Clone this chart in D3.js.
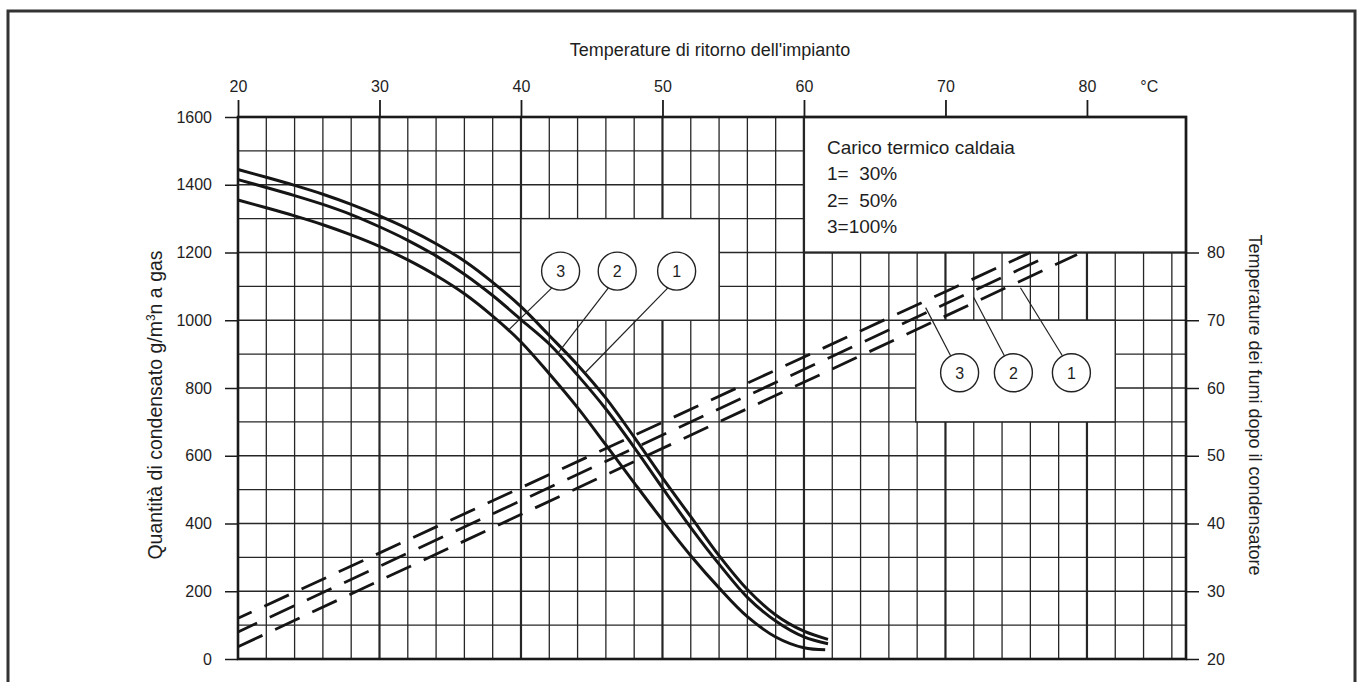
<!DOCTYPE html>
<html>
<head>
<meta charset="utf-8">
<script src="https://cdn.jsdelivr.net/npm/d3@7"></script>
<style>
  body { margin: 0; background: #fff; }
  svg { display: block; }
  text { font-family: "Liberation Sans", Arial, sans-serif; fill: #1e1e1e; }
</style>
</head>
<body>
<div id="chart"></div>
<script>
// return temperature (top axis, °C)
var retTemp = [20, 22, 24, 26, 28, 30, 32, 34, 36, 38, 40, 42, 44, 46, 48, 50, 52, 54, 56, 58, 60];

// condensate quantity g/m3n gas, one curve per boiler load (left axis)
var cond1 = [1445, 1422, 1398, 1372, 1342, 1308, 1270, 1226, 1175, 1112, 1040, 955, 868, 770, 655, 535, 420, 305, 205, 130, 82];
var cond2 = [1415, 1392, 1368, 1342, 1312, 1276, 1236, 1190, 1136, 1073, 1002, 930, 838, 738, 625, 505, 388, 280, 182, 112, 65];
var cond3 = [1355, 1332, 1308, 1282, 1252, 1218, 1178, 1132, 1078, 1012, 936, 842, 742, 632, 520, 410, 305, 210, 125, 65, 33];
var condEndT = [61.7, 61.7, 61.5];
var condEndV = [58, 45, 27];

// flue gas temperature after condenser (right axis), straight dashed lines
var flueRet1 = [20, 79.3], flueT1 = [21.8, 79.7];
var flueRet2 = [20, 77.4], flueT2 = [24.0, 79.6];
var flueRet3 = [20, 76.0], flueT3 = [26.0, 80.0];

// axis ticks
var topTicks = [20, 30, 40, 50, 60, 70, 80];
var leftTicks = [0, 200, 400, 600, 800, 1000, 1200, 1400, 1600];
var rightTicks = [20, 30, 40, 50, 60, 70, 80];

// legend
var legendTitle = "Carico termico caldaia";
var legendLines = ["1=  30%", "2=  50%", "3=100%"];

// label boxes [t0, t1, v0, v1] in data units
var boxCurves = [40.0, 54.0, 1000, 1300];
var boxFlue = [67.9, 82.0, 700, 1000];
var boxLegend = [60.0, 87, 1200, 1600];

// circled labels: [label, temp, value, target temp]
var curveTags = [["3", 42.8, 1145, 39.1], ["2", 46.8, 1145, 42.6], ["1", 51.0, 1145, 44.5]];
var flueTags = [["3", 71.0, 845, 68.6], ["2", 74.8, 845, 72.0], ["1", 78.9, 845, 75.3]];

var W = 1362, H = 682;
var svg = d3.select("#chart").append("svg").attr("width", W).attr("height", H);

var x = d3.scaleLinear().domain([20, 87]).range([238, 1186]);
var yL = d3.scaleLinear().domain([0, 1600]).range([659, 117]);
var yR = d3.scaleLinear().domain([20, 100]).range([659, 117]);

// outer frame
svg.append("rect").attr("x", 8).attr("y", 11).attr("width", 1347).attr("height", 690)
  .attr("fill", "none").attr("stroke", "#333").attr("stroke-width", 3);

// grid
var g = svg.append("g");
g.selectAll("line.v").data(d3.range(22, 87, 2)).join("line")
  .attr("x1", d => x(d)).attr("x2", d => x(d))
  .attr("y1", yL(1600)).attr("y2", yL(0))
  .attr("stroke", "#262626").attr("stroke-width", d => d % 10 == 0 ? 2.2 : 1.3);
g.selectAll("line.h").data(d3.range(100, 1600, 100)).join("line")
  .attr("x1", x(20)).attr("x2", x(87))
  .attr("y1", d => yL(d)).attr("y2", d => yL(d))
  .attr("stroke", "#262626").attr("stroke-width", 1.3);

// white boxes
function box(b, sw) {
  svg.append("rect")
    .attr("x", x(b[0])).attr("y", yL(b[3]))
    .attr("width", x(b[1]) - x(b[0])).attr("height", yL(b[2]) - yL(b[3]))
    .attr("fill", "#fff").attr("stroke", "#262626").attr("stroke-width", sw);
}
box(boxCurves, 1.4);
box(boxFlue, 1.4);
box(boxLegend, 2.2);

// plot border
svg.append("rect").attr("x", x(20)).attr("y", yL(1600))
  .attr("width", x(87) - x(20)).attr("height", yL(0) - yL(1600))
  .attr("fill", "none").attr("stroke", "#1a1a1a").attr("stroke-width", 2.6);

// axes
var topAxis = d3.axisTop(x).tickValues(topTicks).tickSize(17).tickPadding(8);
svg.append("g").attr("transform", "translate(0," + yL(1600) + ")").call(topAxis)
  .call(a => a.select(".domain").remove())
  .call(a => a.selectAll(".tick line").attr("stroke", "#1a1a1a").attr("stroke-width", 1.8));
var leftAxis = d3.axisLeft(yL).tickValues(leftTicks).tickFormat(d3.format("d")).tickSize(13).tickPadding(13);
svg.append("g").attr("transform", "translate(" + x(20) + ",0)").call(leftAxis)
  .call(a => a.select(".domain").remove())
  .call(a => a.selectAll(".tick line").attr("stroke", "#1a1a1a").attr("stroke-width", 1.5));
var rightAxis = d3.axisRight(yR).tickValues(rightTicks).tickSize(13).tickPadding(8);
svg.append("g").attr("transform", "translate(" + x(87) + ",0)").call(rightAxis)
  .call(a => a.select(".domain").remove())
  .call(a => a.selectAll(".tick line").attr("stroke", "#1a1a1a").attr("stroke-width", 1.5));
svg.selectAll(".tick text").style("font-family", "'Liberation Sans', Arial, sans-serif")
  .style("font-size", "16px").attr("fill", "#1e1e1e");

svg.append("text").attr("x", x(84.4)).attr("y", yL(1600) - 25).attr("text-anchor", "middle")
  .style("font-size", "16px").text("°C");

// axis titles
svg.append("text").attr("x", 710).attr("y", 56).attr("text-anchor", "middle")
  .style("font-size", "18px").text("Temperature di ritorno dell'impianto");
svg.append("text").attr("transform", "translate(162,405) rotate(-90)").attr("text-anchor", "middle")
  .style("font-size", "19.5px")
  .html("Quantità di condensato g/m<tspan dy='-7' font-size='12px'>3</tspan><tspan dy='7'>n a gas</tspan>");
svg.append("text").attr("transform", "translate(1249,405) rotate(90)").attr("text-anchor", "middle")
  .style("font-size", "18px").text("Temperature dei fumi dopo il condensatore");

// condensate curves
var line = d3.line().x(d => x(d[0])).y(d => yL(d[1])).curve(d3.curveCatmullRom.alpha(0.5));
[cond1, cond2, cond3].forEach(function(c, i) {
  var pts = retTemp.map((t, j) => [t, c[j]]);
  pts.push([condEndT[i], condEndV[i]]);
  svg.append("path").datum(pts).attr("d", line)
    .attr("fill", "none").attr("stroke", "#151515").attr("stroke-width", 3);
});

// flue gas dashed lines
var lineR = d3.line().x(d => x(d[0])).y(d => yR(d[1]));
var flue = [[flueRet1, flueT1], [flueRet2, flueT2], [flueRet3, flueT3]];
flue.forEach(function(f, i) {
  var pts = f[0].map((t, j) => [t, f[1][j]]);
  svg.append("path").datum(pts).attr("d", lineR)
    .attr("fill", "none").attr("stroke", "#151515").attr("stroke-width", 2.8)
    .attr("stroke-dasharray", "27,14").attr("stroke-dashoffset", i * 6);
});

function interp(arr, t) {
  var i = d3.bisectLeft(retTemp, t);
  var t0 = retTemp[i - 1], t1 = retTemp[i];
  return arr[i - 1] + (arr[i] - arr[i - 1]) * (t - t0) / (t1 - t0);
}
var R = 19;
var condByTag = {"1": cond1, "2": cond2, "3": cond3};
curveTags.forEach(function(c) {
  var cx = x(c[1]), cy = yL(c[2]);
  svg.append("line").attr("x1", cx - 9).attr("y1", cy + R - 2)
    .attr("x2", x(c[3])).attr("y2", yL(interp(condByTag[c[0]], c[3])))
    .attr("stroke", "#222").attr("stroke-width", 1.2);
});
var flueByTag = {"1": flue[0], "2": flue[1], "3": flue[2]};
flueTags.forEach(function(c) {
  var cx = x(c[1]), cy = yL(c[2]);
  var f = flueByTag[c[0]];
  var tv = f[1][0] + (f[1][1] - f[1][0]) * (c[3] - f[0][0]) / (f[0][1] - f[0][0]);
  svg.append("line").attr("x1", cx - 9).attr("y1", cy - R + 2)
    .attr("x2", x(c[3])).attr("y2", yR(tv - 1))
    .attr("stroke", "#222").attr("stroke-width", 1.2);
});
curveTags.concat(flueTags).forEach(function(c) {
  var cx = x(c[1]), cy = yL(c[2]);
  svg.append("circle").attr("cx", cx).attr("cy", cy).attr("r", R)
    .attr("fill", "#fff").attr("stroke", "#222").attr("stroke-width", 1.4);
  svg.append("text").attr("x", cx).attr("y", cy + 6).attr("text-anchor", "middle")
    .style("font-size", "16px").text(c[0]);
});

// legend text
var lx = x(boxLegend[0]) + 23;
svg.append("text").attr("x", lx).attr("y", 154).style("font-size", "19px").text(legendTitle);
legendLines.forEach(function(s, i) {
  svg.append("text").attr("x", lx).attr("y", 180 + i * 26.5)
    .style("font-size", "19px").style("white-space", "pre").text(s);
});
</script>
</body>
</html>
